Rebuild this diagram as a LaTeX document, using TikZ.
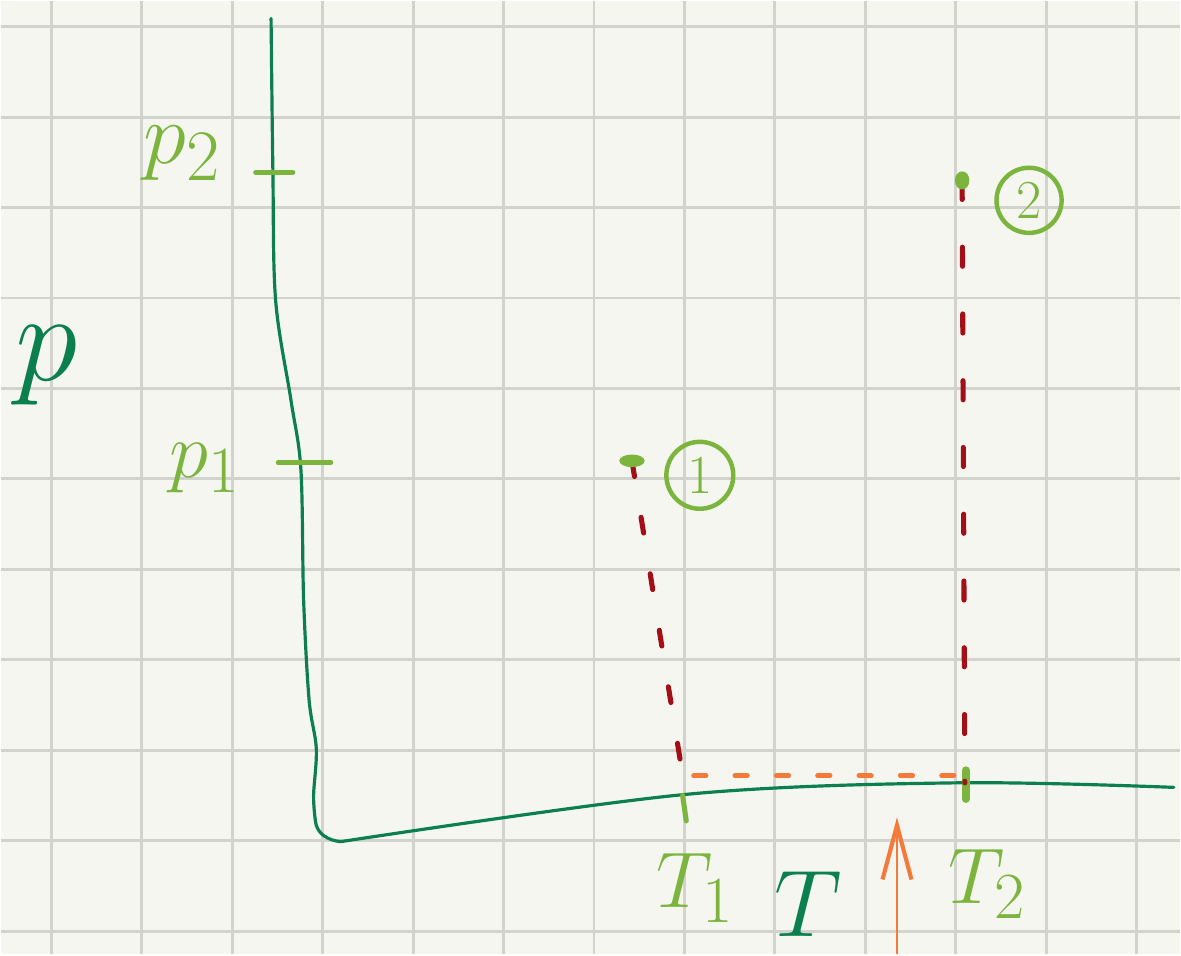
\documentclass[tikz,border=0pt]{standalone}
\usepackage{amsmath}
\usepackage{tikz}
\usetikzlibrary{arrows.meta,calc}
\usepackage{xcolor}
\definecolor{papier}{HTML}{F5F6F0}
\definecolor{grille}{HTML}{D3D3CD}
\definecolor{axe}{HTML}{0B7F4E}
\definecolor{clair}{HTML}{7CB53E}
\definecolor{rouge}{HTML}{A30F16}
\definecolor{chaud}{HTML}{F47A3A}

\begin{document}
\begin{tikzpicture}[>={Straight Barb[length=6mm,width=3.2mm,line width=1.3pt]}]
    % papier quadrillé
    \fill[papier] (-0.551,-0.254) rectangle (12.474,10.279);
    \draw[grille, line width=0.9pt] (-0.551,-0.254) grid (12.474,10.279);
    \useasboundingbox (-0.551,-0.254) rectangle (12.474,10.279);
    % points du diagramme
    \coordinate (E1) at (6.42,5.20);  \coordinate (E2) at (10.07,8.30);
    \coordinate (T1) at (7.00,1.60);  \coordinate (T2) at (10.10,1.64);
    \coordinate (F) at (9.35,-0.254); \coordinate (Fh) at (9.35,1.26);
    \coordinate (O) at (3.20,0.99);
    % axes
    \draw[axe, line width=1pt, line cap=round, line join=round]
      plot[smooth, tension=0.55] coordinates {
      (2.43,10.09) (2.45,8.41) (2.48,6.98) (2.65,5.87) (2.76,5.10) (2.79,3.66)
      (2.85,2.56) (2.93,2.02) (2.90,1.50) (2.92,1.22)}
      to[out=-85,in=175] (O)
      -- plot[smooth, tension=0.55] coordinates {(O) (6.99,1.51) (10.0,1.64) (12.41,1.59)};
    \node[axe, font=\Huge, scale=1.6] (p) at (-0.05,6.25) {$p$};
    % graduations
    \draw[clair, line width=1.6pt, line cap=round] (2.26,8.39) -- (2.67,8.39);
    \draw[clair, line width=1.6pt, line cap=round] (2.51,5.18) -- (3.09,5.18);
    \draw[clair, line width=1.6pt, line cap=round] (6.98,1.50) -- (7.02,1.22);
    \draw[clair, line width=2.4pt, line cap=round] (10.11,1.78) -- (10.11,1.46);
    \node[clair, font=\Huge, scale=1.1] (p2) at (1.45,8.6) {$p_2$};
    \node[clair, font=\Huge] (p1) at (1.70,5.12) {$p_1$};
    \node[clair, font=\Huge] (t1) at (7.12,0.48) {$T_1$};
    \node[clair, font=\Huge] (t2) at (10.35,0.52) {$T_2$};
    \node[axe, font=\Huge, scale=1.2] (t) at (8.37,0.30) {$T$};
    % états 1 et 2
    \draw[rouge, line width=1.6pt, line cap=round, dash pattern=on 5pt off 13pt] (E1) -- (T1);
    \draw[rouge, line width=1.6pt, line cap=round, dash pattern=on 6pt off 15pt] (E2) -- (T2);
    \draw[chaud, line width=1.4pt, line cap=round, dash pattern=on 4pt off 9pt] ($(T1)+(0.1,0.12)$) -- ($(T2)+(-0.05,0.08)$);
    \fill[clair] (E1) ellipse (0.14 and 0.07);
    \fill[clair] (E2) ellipse (0.08 and 0.10);
    \node[draw, circle, clair, line width=1.4pt, minimum size=0.74cm, inner sep=0pt,
          font=\LARGE] (c1) at (7.17,5.04) {$1$};
    \node[draw, circle, clair, line width=1.4pt, minimum size=0.72cm, inner sep=0pt,
          font=\LARGE] (c2) at (10.81,8.08) {$2$};
    % flèche
    \draw[chaud, line width=0.6pt, ->] (F) -- (Fh);
  \end{tikzpicture}
\end{document}
